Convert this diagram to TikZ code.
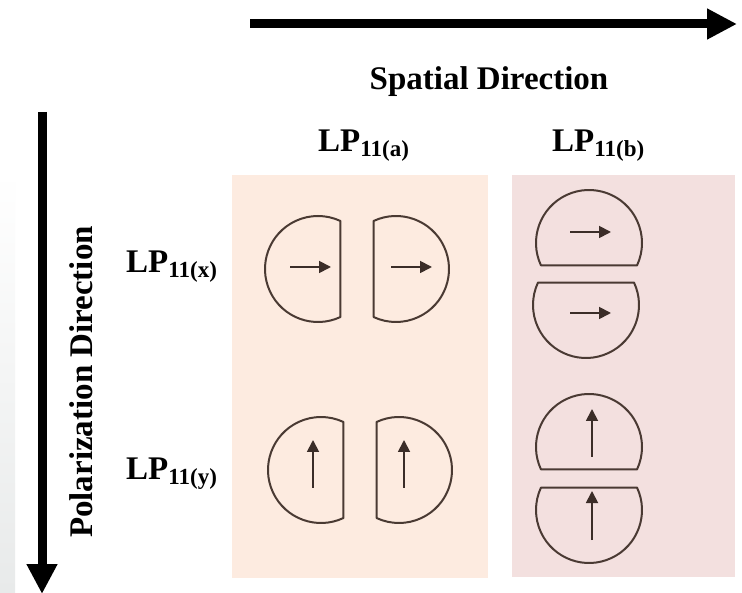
\documentclass[tikz,border=0pt]{standalone}
\usepackage{fontspec}
\setmainfont{Liberation Serif}
\usetikzlibrary{arrows.meta}
\definecolor{panelA}{HTML}{FDEBE0}
\definecolor{panelB}{HTML}{F3E0DF}
\definecolor{outline}{HTML}{4A3A33}
\definecolor{inarrow}{HTML}{3B2D28}
\definecolor{stripgray}{HTML}{E8EAEA}
\newcommand{\hdisc}[3]{% center x, center y, direction of flat side
  \draw[discline] (#1,#2) ++({#3+65}:53) arc[start angle={#3+65}, end angle={#3+295}, radius=53] -- cycle;}
\newcommand{\LPlabel}[1]{LP\raisebox{-4.5pt}{\fontsize{23}{23}\selectfont #1}}
\begin{document}
\begin{tikzpicture}[x=1pt,y=-1pt,
  discline/.style={draw=outline, line width=2pt, line join=round},
  polarrow/.style={draw=inarrow, line width=1.8pt, -{Triangle[length=12pt,width=12pt]}},
  bigarrow/.style={draw=black, line width=9pt, -{Triangle[length=30pt,width=29pt]}},
  lbl/.style={font=\bfseries\fontsize{33}{36}\selectfont, inner sep=0pt}]
\useasboundingbox (0,0) rectangle (742,593);
\fill[white] (0,0) rectangle (742,593);
% faint strip at the left edge
\shade[top color=white, bottom color=stripgray] (0,172) rectangle (15,593);
% panels
\fill[panelA] (232,175) rectangle (488,578);
\fill[panelB] (512,175) rectangle (735,577);
% direction arrows
\coordinate (hs) at (250,24);
\coordinate (he) at (737,24);
\coordinate (vs) at (42,112);
\coordinate (ve) at (42,594);
\draw[bigarrow] (hs) -- (he);
\draw[bigarrow] (vs) -- (ve);
% labels
\node[lbl, anchor=base] (spatial) at (489,90) {Spatial Direction};
\node[lbl, anchor=base, rotate=90] (polar) at (92,382) {Polarization Direction};
\node[lbl, anchor=base west] (lpa) at (318,152) {\LPlabel{11(a)}};
\node[lbl, anchor=base west] (lpb) at (552,152) {\LPlabel{11(b)}};
\node[lbl, anchor=base west] (lpx) at (126,273) {\LPlabel{11(x)}};
\node[lbl, anchor=base west] (lpy) at (126,480) {\LPlabel{11(y)}};
% LP11(a), x polarization
\hdisc{318}{269}{0}
\hdisc{396}{269}{180}
\coordinate (a1s) at (290,267); \coordinate (a1e) at (331,267);
\coordinate (a2s) at (391,267); \coordinate (a2e) at (432,267);
\draw[polarrow] (a1s) -- (a1e);
\draw[polarrow] (a2s) -- (a2e);
% LP11(a), y polarization
\hdisc{321}{470}{0}
\hdisc{399}{470}{180}
\coordinate (a3s) at (313,488); \coordinate (a3e) at (313,440);
\coordinate (a4s) at (404,488); \coordinate (a4e) at (404,440);
\draw[polarrow] (a3s) -- (a3e);
\draw[polarrow] (a4s) -- (a4e);
% LP11(b), x polarization
\hdisc{589}{243}{90}
\hdisc{586}{305}{270}
\coordinate (b1s) at (570,232); \coordinate (b1e) at (611,232);
\coordinate (b2s) at (570,313); \coordinate (b2e) at (611,313);
\draw[polarrow] (b1s) -- (b1e);
\draw[polarrow] (b2s) -- (b2e);
% LP11(b), y polarization
\hdisc{589}{447}{90}
\hdisc{589}{510}{270}
\coordinate (b3s) at (592,457); \coordinate (b3e) at (592,409);
\coordinate (b4s) at (592,540); \coordinate (b4e) at (592,491);
\draw[polarrow] (b3s) -- (b3e);
\draw[polarrow] (b4s) -- (b4e);
\end{tikzpicture}
\end{document}
